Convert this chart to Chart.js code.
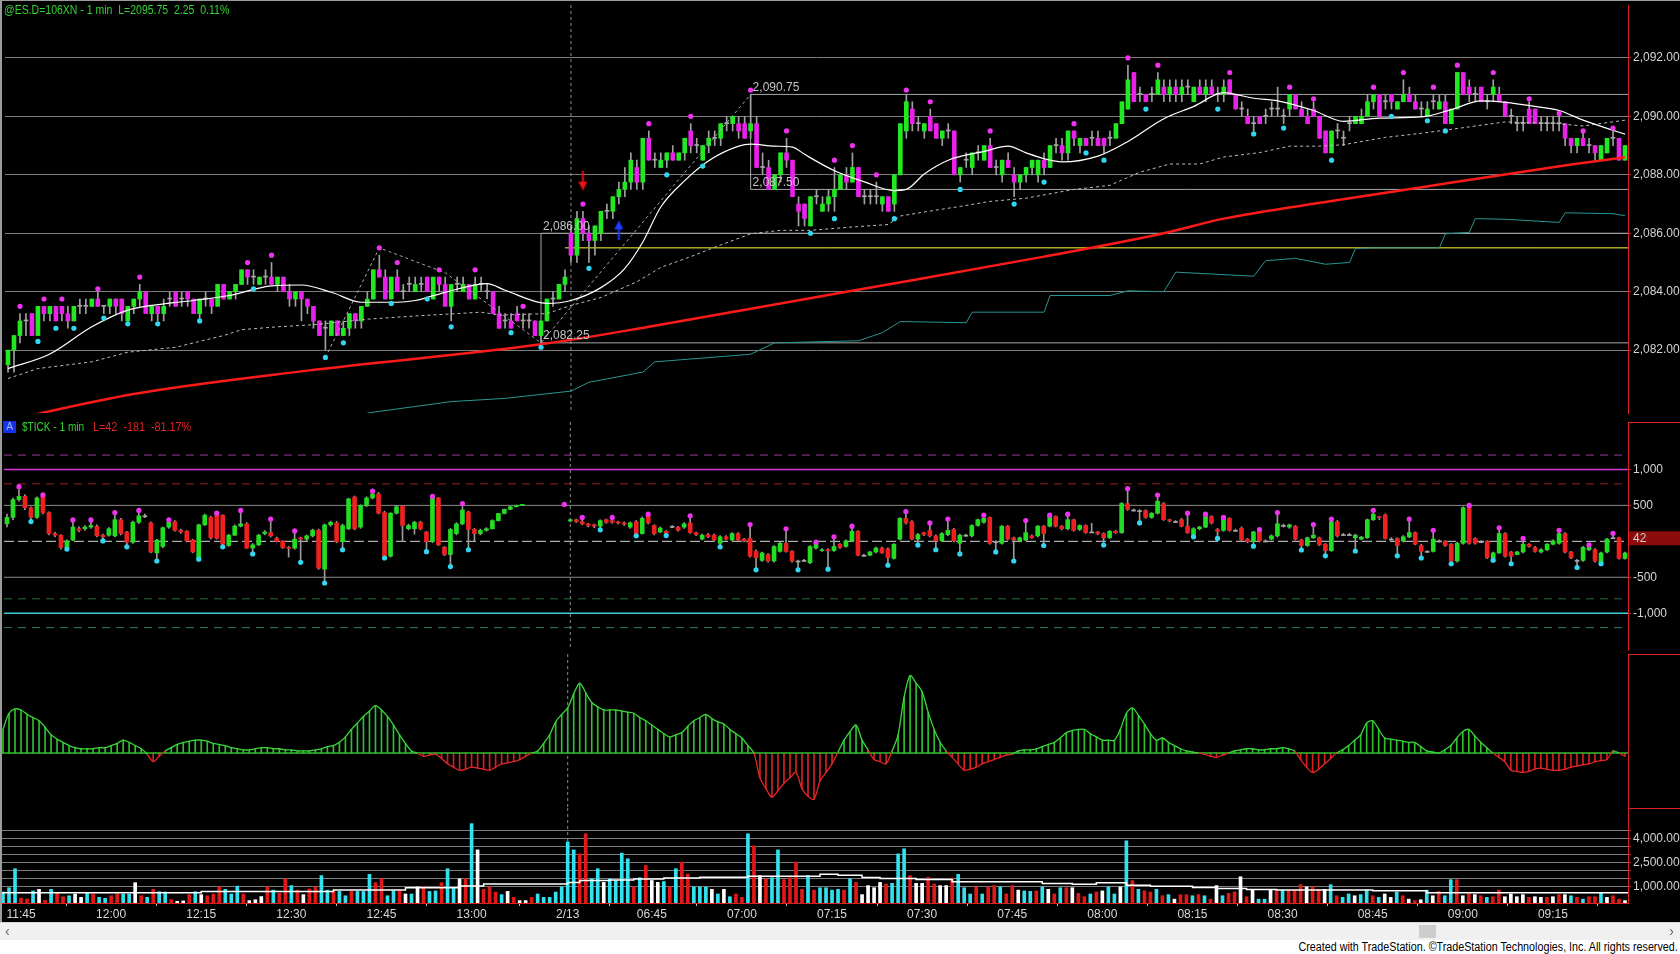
<!DOCTYPE html>
<html>
<head>
<meta charset="utf-8">
<title>@ES.D - 1 min</title>
<script src="https://cdn.jsdelivr.net/npm/chart.js@4.4.1/dist/chart.umd.min.js"></script>
<style>
  html, body { margin: 0; padding: 0; background: #fff; }
  body { width: 1680px; height: 954px; position: relative; overflow: hidden;
         font-family: "Liberation Sans Narrow", "Arial Narrow", "Liberation Sans", sans-serif; }
  #board { position: absolute; left: 0; top: 0; width: 1680px; height: 922px; background: #000; }
  canvas { position: absolute; left: 0; }
  #cPrice { top: 0; }
  #cTick { top: 418px; }
  #cOsc { top: 654px; }
  #cVol { top: 808px; }
  .frame { position: absolute; left: 0; top: 0; width: 1678px; height: 921px;
           border-left: 2px solid #9c9c9c; border-top: 1px solid #9c9c9c; pointer-events: none; }
  .title { position: absolute; font-size: 12px; white-space: pre; line-height: 14px;
           transform: scaleX(0.875); transform-origin: 0 0; }
  #esTitle { left: 4px; top: 3px; color: #35d435; }
  #tickTitle { left: 22px; top: 420px; color: #35d435; transform: scaleX(0.84); }
  #tickStats { left: 93px; top: 420px; color: #e42323; transform: scaleX(0.9); }
  #tickBadge { position: absolute; left: 3px; top: 421px; width: 13px; height: 12px; background: #1530e8;
               color: #9fb0ff; font-size: 10px; line-height: 12px; text-align: center; }
  #scroll { position: absolute; left: 0; top: 922px; width: 1680px; height: 17px; background: #f0f0f0;
            border-top: 1px solid #d8d8d8; }
  #thumb { position: absolute; left: 1419px; top: 2px; width: 17px; height: 13px; background: #cdcdcd; }
  #arrowR { position: absolute; right: 6px; top: 0; font-size: 14px; color: #606060; line-height: 17px; }
  #arrowL { position: absolute; left: 5px; top: 0; font-size: 14px; color: #606060; line-height: 17px; }
  #credit { position: absolute; right: 2px; top: 940px; font-size: 12px; color: #000; white-space: nowrap;
            line-height: 14px; transform: scaleX(0.895); transform-origin: 100% 0; }
</style>
</head>
<body>
<div id="board">
  <canvas id="cPrice" width="1680" height="418"></canvas>
  <canvas id="cTick" width="1680" height="236"></canvas>
  <canvas id="cOsc" width="1680" height="154"></canvas>
  <canvas id="cVol" width="1680" height="113"></canvas>
  <div class="frame"></div>
  <div class="title" id="esTitle">@ES.D=106XN - 1 min  L=2095.75  2.25  0.11%</div>
  <div id="tickBadge">A</div>
  <div class="title" id="tickTitle">$TICK - 1 min</div>
  <div class="title" id="tickStats">L=42  -181  -81.17%</div>
</div>
<div id="scroll"><span id="arrowL">&lsaquo;</span><div id="thumb"></div><span id="arrowR">&rsaquo;</span></div>
<div id="credit">Created with TradeStation. &copy;TradeStation Technologies, Inc. All rights reserved.</div>

<script>
// one bar per minute: 11:42-13:15 on the first day, then 2/13 06:31-09:27
var tickIdx = [3, 18, 33, 48, 63, 78, 94, 108, 123, 138, 153, 168, 183, 198, 213, 228, 243, 258];
var tickText = ["11:45", "12:00", "12:15", "12:30", "12:45", "13:00", "2/13", "06:45", "07:00", "07:15",
                "07:30", "07:45", "08:00", "08:15", "08:30", "08:45", "09:00", "09:15"];
var sessionBreak = 94;

// @ES.D 1 min candles
var esOpen = [
  2081.5,2082,2082.5,2083,2083.25,2082.5,2083.5,2083.25,2083.5,2083.5,
  2083.25,2083,2083.5,2083.5,2083.5,2083.75,2083.5,2083.5,2083.75,2083.75,
  2083,2083.5,2083.75,2084,2083.25,2083.5,2083.25,2083.75,2084,2083.75,
  2084,2083.75,2083.25,2083.75,2083.75,2083.5,2084.25,2083.75,2084,2084.25,
  2084.75,2084.5,2084.25,2084.5,2084.5,2084.25,2084.5,2084,2083.75,2084,
  2083.75,2083.5,2083,2082.75,2082.5,2083,2082.5,2082.75,2083.25,2083,
  2083.5,2083.75,2084.75,2084.5,2083.75,2084.5,2084,2084.25,2084,2084.25,
  2084.5,2083.75,2084.5,2084.25,2083.5,2084.25,2084,2084.25,2083.75,2084.25,
  2084,2084,2083.25,2083,2083,2083.25,2083,2083,2083,2082.5,
  2083,2083.75,2083.75,2084.25,2086,2085.25,2086.5,2086,2085.75,2086,
  2086.75,2086.75,2087.25,2087.5,2087.75,2088.25,2087.75,2089.25,2088.5,2088.25,
  2088.5,2088.75,2088.5,2088.75,2089.5,2089,2088.5,2089,2089.25,2089.25,
  2089.75,2089.75,2089.75,2089.75,2089.5,2089.75,2088.25,2088.25,2087.5,2088,
  2088.75,2088.5,2087,2087,2086.25,2087.25,2086.75,2087,2087.25,2087.5,
  2088,2087.75,2088.25,2087.25,2087.25,2087.25,2087,2087.25,2087,2088,
  2089.5,2090.25,2089.75,2089.5,2090,2089.75,2089.25,2089.5,2089.5,2088,
  2088.5,2088.25,2088.75,2088.5,2089,2088.25,2088,2088.5,2088,2087.75,
  2088,2088.25,2088,2088.5,2088.25,2089,2089,2088.75,2089.5,2089,
  2089.25,2089.25,2089.25,2089.25,2089.25,2089.25,2089.75,2090.25,2091.5,2090.75,
  2090.75,2090.75,2090.75,2091,2090.75,2091,2090.75,2091,2090.5,2091,
  2090.75,2091,2090.75,2090.75,2091.25,2090.75,2090.25,2090,2089.75,2090,
  2090,2090.25,2090.25,2090,2090.25,2090.75,2090.25,2090,2090.25,2090,
  2089.5,2088.75,2089.5,2089.25,2089.75,2089.75,2089.75,2090,2090.5,2090.75,
  2090.5,2090.75,2090.25,2090.5,2090.75,2090.5,2090.25,2090,2090.5,2090.25,
  2090.5,2089.75,2090.25,2091.5,2091,2090.75,2091,2090.5,2090.75,2090.75,
  2090.5,2090,2089.75,2089.75,2090.25,2090.25,2089.75,2089.75,2089.75,2089.75,
  2089.75,2089.25,2089,2089.25,2089,2089,2088.5,2088.75,2089.25,2089.25,
  2088.5
];
var esHigh = [
  2082,2082.5,2083.25,2083.25,2083.25,2083.5,2083.5,2083.5,2083.5,2083.5,
  2083.5,2083.5,2083.75,2083.75,2083.75,2084,2083.5,2083.75,2083.75,2083.75,
  2083.5,2083.75,2084.25,2084,2083.5,2083.5,2083.75,2084,2084,2084,
  2084,2083.75,2083.75,2084,2083.75,2084.25,2084.25,2084,2084.25,2084.75,
  2084.75,2084.75,2084.5,2084.75,2085,2084.5,2084.5,2084.25,2084,2084,
  2083.75,2083.5,2083,2083,2083,2083,2083,2083.25,2083.25,2083.5,
  2084,2084.75,2085.25,2084.75,2084.5,2084.75,2084.25,2084.5,2084.5,2084.5,
  2084.5,2084.5,2084.5,2084.5,2084.25,2084.5,2084.5,2084.25,2084.5,2084.5,
  2084.25,2084,2083.5,2083.25,2083.25,2083.5,2083.25,2083.25,2083,2083,
  2083.75,2084,2084.25,2084.75,2086.25,2086.75,2086.75,2086.25,2086.25,2086.75,
  2087,2087.25,2087.75,2088.25,2088.75,2088.5,2089.25,2089.5,2088.75,2088.75,
  2088.75,2089,2088.75,2089.25,2089.75,2089.25,2089,2089.5,2089.5,2089.75,
  2090,2090,2090,2090,2090.75,2090,2088.75,2088.5,2088,2088.75,
  2089.25,2088.5,2087.25,2087,2087.25,2087.5,2087.25,2087.5,2088.25,2088,
  2088.25,2088.75,2088.25,2087.5,2087.5,2087.75,2087.25,2087.25,2088,2089.75,
  2090.75,2090.5,2090,2089.75,2090.25,2089.75,2089.5,2089.75,2089.5,2088.25,
  2088.75,2088.75,2089,2089,2089.25,2088.5,2088.5,2088.75,2088.25,2088,
  2088.25,2088.5,2088.5,2088.75,2089,2089.25,2089.25,2089.5,2089.5,2089.25,
  2089.25,2089.5,2089.5,2089.25,2089.5,2089.75,2090.5,2091.75,2091.5,2091,
  2090.75,2091,2091.5,2091.25,2091.25,2091.25,2091.25,2091.25,2091,2091.25,
  2091.25,2091.25,2091,2091.25,2091.25,2090.75,2090.5,2090.25,2090,2090,
  2090.25,2090.5,2091,2090.25,2090.75,2090.75,2090.5,2090.25,2090.5,2090,
  2089.5,2089.5,2089.75,2089.5,2090,2090,2090.25,2090.75,2090.75,2090.75,
  2090.75,2090.75,2090.5,2091.25,2091,2090.75,2090.5,2090.5,2090.75,2090.75,
  2090.75,2090.25,2091.5,2091.5,2091.25,2091,2091,2090.75,2091.25,2091,
  2090.5,2090.25,2090,2090,2090.5,2090.25,2090,2090,2090,2090,
  2089.75,2089.25,2089.25,2089.5,2089.25,2089,2089,2089.25,2089.5,2089.25,
  2089
];
var esLow = [
  2081.25,2081.25,2082.25,2082.5,2082.5,2082.5,2083,2083,2083,2083,
  2082.75,2083,2083.25,2083.25,2083.5,2083.5,2083.25,2083.25,2083.25,2083,
  2083,2083.25,2083.5,2083.25,2083,2083,2083,2083.5,2083.5,2083.5,
  2083.5,2083.25,2083,2083.5,2083.25,2083.5,2083.75,2083.75,2083.75,2084.25,
  2084.25,2084.25,2084.25,2084.25,2084.25,2084,2084,2083.5,2083.5,2083,
  2083.25,2082.75,2082.5,2082,2082.5,2082.5,2082.5,2082.5,2082.75,2082.75,
  2083.5,2083.75,2084.5,2083.75,2083.75,2084,2083.75,2084,2084,2084,
  2084,2083.75,2084,2083.5,2083,2084,2084,2083.75,2083.75,2084,
  2083.75,2083.25,2082.75,2082.75,2082.75,2083,2082.75,2082.75,2082.5,2082.25,
  2083,2083.5,2083.75,2084,2085,2085,2085.75,2085,2085.25,2085.75,
  2086.5,2086.5,2087,2087.25,2087.5,2087.5,2087.5,2088.5,2088.25,2088.25,
  2088.25,2088.5,2088.5,2088.5,2088.75,2088.75,2088.5,2088.75,2089,2089,
  2089.5,2089.5,2089.25,2089.25,2089.25,2088.25,2088,2087.5,2087.5,2087.75,
  2088.25,2087.25,2086.25,2086.25,2086.25,2087,2086.75,2086.75,2086.75,2087.5,
  2087.5,2087.75,2087.25,2087,2087,2087,2086.75,2086.75,2086.75,2088,
  2089.25,2089.5,2089.5,2089.25,2089.5,2089.25,2089,2089.25,2088,2087.75,
  2088.25,2088,2088.5,2088.5,2088.25,2088,2087.75,2088.25,2087.25,2087.5,
  2087.75,2088,2087.75,2088,2088.25,2088.75,2088.5,2088.5,2089,2088.75,
  2089,2089,2089,2088.75,2089,2089.25,2089.75,2090.25,2090.5,2090.5,
  2090.5,2090.5,2090.75,2090.5,2090.5,2090.5,2090.5,2090.75,2090.5,2090.75,
  2090.5,2090.75,2090.5,2090.5,2090.75,2090.25,2090,2089.75,2089.5,2089.75,
  2089.75,2090,2090,2089.75,2090,2090.25,2090,2089.75,2090,2089.25,
  2088.75,2088.75,2089.25,2089,2089.5,2089.75,2089.75,2090,2090.25,2090,
  2090.25,2090.25,2090.25,2090.5,2090.5,2090.25,2090,2090,2090.25,2090.25,
  2089.75,2089.75,2090.25,2090.75,2090.5,2090.5,2090.5,2090.25,2090.5,2090.5,
  2090,2089.75,2089.5,2089.5,2089.75,2089.75,2089.5,2089.5,2089.5,2089.5,
  2089,2088.75,2088.75,2089,2088.75,2088.5,2088.5,2088.75,2089,2088.5,
  2088.5
];
var esClose = [
  2082,2082.5,2083,2083,2082.5,2083.5,2083.25,2083.5,2083,2083.25,
  2083,2083.5,2083.5,2083.5,2083.75,2083.5,2083.5,2083.75,2083.5,2083.25,
  2083.5,2083.75,2084,2083.25,2083.5,2083.25,2083.5,2083.75,2083.5,2083.75,
  2083.75,2083.25,2083.75,2083.75,2083.5,2084.25,2083.75,2084,2084.25,2084.75,
  2084.5,2084.5,2084.5,2084.5,2084.25,2084.5,2084,2083.75,2084,2083.75,
  2083.5,2083,2082.5,2082.75,2083,2082.5,2082.75,2083.25,2083,2083.5,
  2083.75,2084.75,2084.5,2083.75,2084.5,2084,2084,2084.25,2084.25,2084.25,
  2084,2084.5,2084.25,2083.5,2084.25,2084.25,2084.25,2083.75,2084.25,2084.25,
  2084,2083.25,2082.75,2083,2082.75,2083,2083,2083,2082.5,2083,
  2083.75,2083.75,2084.25,2084.5,2085.25,2086.5,2086,2085.75,2086.25,2086.75,
  2086.75,2087.25,2087.5,2087.75,2088.5,2087.75,2089.25,2088.5,2088.5,2088.5,
  2088.75,2088.5,2088.75,2089.25,2089,2089,2089,2089.25,2089.25,2089.75,
  2089.75,2090,2089.5,2089.25,2089.75,2088.25,2088.25,2087.5,2088,2088.75,
  2088.5,2087.25,2086.75,2086.5,2087.25,2087.25,2087,2087.25,2087.5,2088,
  2087.75,2088.25,2087.25,2087.25,2087.25,2087.25,2087.25,2086.75,2088,2089.75,
  2090.5,2089.75,2089.75,2089.75,2089.5,2089.25,2089.5,2089.5,2088,2088.25,
  2088.5,2088.75,2088.75,2089,2088.25,2088.25,2088.5,2088.25,2087.75,2088,
  2088.25,2088.5,2088.5,2088.25,2089,2089,2088.75,2089.5,2089.25,2089.25,
  2089,2089.25,2089,2089,2089.25,2089.75,2090.5,2091.25,2090.5,2090.75,
  2090.5,2090.75,2091.25,2090.75,2091,2090.75,2091,2091,2091,2090.75,
  2091,2090.75,2090.75,2091,2090.75,2090.25,2090.25,2089.75,2089.75,2089.75,
  2090,2090.25,2090.25,2090,2090.75,2090.25,2090,2089.75,2090,2089.25,
  2088.75,2089.5,2089.5,2089.25,2089.75,2090,2090,2090.5,2090.75,2090,
  2090.5,2090.5,2090.5,2090.75,2090.5,2090.25,2090.25,2090.25,2090.5,2090.5,
  2089.75,2090.25,2091.5,2090.75,2090.75,2090.75,2090.5,2090.5,2091,2090.5,
  2090,2090,2089.75,2089.75,2089.75,2089.75,2089.75,2089.75,2089.75,2089.75,
  2089.25,2089,2089.25,2089,2089,2088.75,2089,2089.25,2089.25,2088.5,
  2089
];
// pivot marks [bar, price]
var esHighDots = [[2,2083.5],[6,2083.75],[9,2083.75],[15,2084.1],[22,2084.5],[40,2085],[44,2085.25],[62,2085.5],
  [65,2085],[72,2084.75],[78,2084.75],[86,2083.5],[96,2087],[107,2089.75],[114,2090],[124,2090.9],[130,2089.5],
  [138,2088.5],[141,2089],[145,2088],[150,2090.9],[154,2090.5],[164,2089.5],[178,2089.75],[187,2092],[192,2091.75],
  [204,2091.5],[214,2091],[218,2090.6],[228,2091],[233,2091.5],[238,2091],[242,2091.75],[248,2091.5],[254,2090.6],
  [259,2090.1],[263,2089.5],[268,2089.6]];
var esLowDots = [[5,2082.3],[8,2082.75],[11,2082.75],[16,2083.1],[20,2082.9],[25,2082.9],[32,2083],[41,2084.1],
  [53,2081.75],[56,2082.25],[64,2083.6],[70,2083.75],[74,2082.8],[84,2082.6],[89,2082.1],[97,2084.8],[110,2088],
  [116,2088.3],[134,2086],[138,2086.5],[148,2086.5],[159,2087.5],[168,2087],[173,2087.75],[180,2088.75],
  [183,2088.5],[190,2090.25],[202,2090.25],[208,2089.4],[213,2089.6],[221,2088.5],[231,2090],[237,2089.85],[240,2089.5]];
var esMaFast = [[0,2081.37],[7,2081.87],[14,2082.8],[20,2083.37],[24,2083.53],[31,2083.7],[37,2083.87],[44,2084.2],
  [49,2084.23],[54,2083.98],[59,2083.64],[65,2083.64],[68,2083.7],[73,2083.98],[80,2084.28],[83,2084.05],[90,2083.6],
  [94,2083.7],[99,2084.14],[103,2084.8],[106,2085.7],[109,2086.9],[113,2087.8],[117,2088.48],[122,2088.98],
  [124,2089.05],[128,2088.98],[131,2088.95],[133,2088.7],[138,2088.14],[143,2087.76],[148,2087.46],[150,2087.5],
  [153,2088.03],[157,2088.5],[163,2088.8],[167,2088.98],[170,2088.75],[173,2088.55],[176,2088.44],[182,2088.64],
  [187,2089.14],[193,2089.92],[198,2090.34],[203,2090.81],[205,2090.75],[208,2090.62],[212,2090.53],[218,2090.2],
  [223,2089.83],[229,2089.94],[236,2089.98],[241,2090.23],[246,2090.53],[250,2090.48],[255,2090.34],[259,2090.2],
  [263,2089.87],[267,2089.59],[270,2089.39]];
var esMaSlow = [[0,2081.03],[5,2081.37],[14,2081.6],[20,2081.93],[28,2082.1],[36,2082.5],[39,2082.7],[45,2082.8],
  [51,2082.87],[60,2083.06],[68,2083.17],[79,2083.3],[82,2083.2],[90,2083.25],[94,2083.53],[99,2083.8],[105,2084.34],
  [109,2084.83],[114,2085.2],[119,2085.6],[124,2085.98],[129,2086.1],[134,2086.1],[140,2086.2],[147,2086.3],
  [149,2086.59],[154,2086.76],[159,2086.92],[164,2087.09],[170,2087.2],[178,2087.5],[184,2087.64],[189,2088.09],
  [194,2088.37],[199,2088.37],[203,2088.61],[209,2088.76],[214,2088.98],[219,2088.98],[223,2089.03],[230,2089.28],
  [236,2089.42],[244,2089.64],[250,2089.81],[258,2089.76],[263,2089.67],[270,2089.87]];
var esMaLong = [[0,2079.6],[21,2080.5],[50,2081.3],[89,2082.2],[107,2082.8],[140,2084],[173,2085.2],[193,2086],
  [203,2086.5],[221,2087.1],[240,2087.7],[261,2088.35],[270,2088.6]];
var esVwap = [[60,2079.85],[74,2080.24],[83,2080.35],[94,2080.6],[97,2080.9],[106,2081.25],[108,2081.6],[124,2081.86],
  [128,2082.25],[142,2082.32],[146,2082.6],[149,2082.98],[160,2082.94],[161,2083.3],[173,2083.3],[174,2083.87],
  [184,2083.87],[187,2084.03],[193,2084],[195,2084.67],[208,2084.53],[210,2085.06],[215,2085.14],[220,2084.94],
  [224,2085],[225,2085.48],[228,2085.5],[239,2085.5],[240,2085.98],[244,2086.03],[245,2086.5],[250,2086.48],
  [259,2086.37],[260,2086.7],[268,2086.67],[270,2086.6]];
var esSwing = [[53,2081.75],[62,2085.5],[73,2084.65],[89,2082.25],[124,2090.75]];
var esBoxes = [[124,2090.75,270.5,2090.75],[124,2087.5,270.5,2087.5],[124,2087.5,124,2090.75],
  [89,2086,270.5,2086],[89,2082.25,270.5,2082.25],[89,2082.25,89,2086]];
var esYellow = [[93,2085.5],[270.5,2085.5]];
var esTags = [[89,2086,"2,086.00"],[89,2082.25,"2,082.25"],[124,2090.75,"2,090.75"],[124,2087.5,"2,087.50"]];
var esSellArrow = [96, 2087.8];
var esBuyArrow = [102, 2086.1];
var esTicks = [2082, 2084, 2086, 2088, 2090, 2092];

// $TICK 1 min candles
var tickOpen = [
  243,333,580,625,468,333,625,400,108,85,
  -85,18,175,175,198,207,85,85,76,301,
  130,-13,265,355,256,-162,-72,198,274,153,
  140,18,-229,229,333,364,364,-58,85,211,
  243,-94,-49,108,121,40,5,-85,-94,50,
  31,76,153,-387,229,256,-5,175,616,198,
  500,603,660,400,-207,391,490,175,175,265,
  130,-5,603,-81,-184,108,243,409,166,108,
  153,175,288,387,445,481,500,null,null,null,
  null,null,null,null,283,300,274,243,230,211,
  301,288,265,256,198,274,108,355,220,130,
  140,207,198,198,256,121,31,94,85,-27,
  63,18,108,31,40,-140,-265,-184,-274,-140,
  -27,-140,-274,-265,-297,-94,-130,-117,-130,-40,
  -72,5,140,-194,-194,-148,-94,-103,-238,31,
  320,274,31,121,153,76,5,94,166,-27,
  85,76,220,265,333,-5,-27,211,49,5,
  18,76,76,211,211,346,211,175,301,166,
  220,130,130,108,49,140,121,526,436,427,
  427,333,391,526,301,274,301,211,85,175,
  198,346,166,153,320,153,184,31,-5,130,
  5,31,76,220,198,211,18,-58,49,49,
  -40,-130,274,94,94,49,31,50,301,340,
  369,31,40,5,63,121,-58,-140,-140,5,
  0,-40,-274,-27,481,40,-5,0,-229,-162,
  108,-148,-184,-148,-40,-85,-148,-117,-40,-27,
  108,-148,-265,-265,-117,-117,-297,-148,50,50,
  -238
];
var tickHigh = [
  380,600,720,650,480,620,630,410,130,95,
  20,280,200,220,280,230,100,190,390,320,
  140,280,420,380,270,30,200,290,290,170,
  150,30,240,380,350,380,370,100,230,420,
  260,-30,100,150,290,60,10,-70,130,60,
  90,170,170,240,280,280,240,600,630,510,
  620,690,680,420,400,500,500,240,280,280,
  140,610,610,-70,180,260,510,420,180,170,
  190,300,390,450,485,505,510,null,null,null,
  null,null,null,null,310,310,320,250,240,300,
  310,320,280,270,270,290,340,370,230,200,
  150,220,210,260,340,130,100,110,100,80,
  80,120,120,40,220,-120,-150,-170,-60,-10,
  160,-130,-260,-250,-60,-20,-100,-100,50,-30,
  20,200,150,-180,-140,-80,-80,-90,-30,330,
  400,290,110,130,240,90,120,300,180,100,
  100,230,310,350,340,10,220,220,60,60,
  270,90,220,220,350,355,220,360,310,230,
  230,250,140,120,150,150,540,700,450,440,
  440,400,620,540,310,290,320,370,190,210,
  360,355,180,330,330,170,200,40,140,150,
  20,90,390,240,240,220,30,60,220,60,
  -30,300,290,110,110,100,70,310,420,350,
  380,50,50,80,300,130,-40,-130,140,20,
  10,-30,-10,480,490,50,10,10,-150,180,
  120,-140,-140,30,-30,-70,-100,-30,20,140,
  120,-140,-250,-70,-70,-100,-150,40,100,60,
  -150
];
var tickLow = [
  200,300,560,440,300,320,380,90,60,-110,
  -100,10,130,150,180,60,20,70,60,90,
  -60,-30,250,330,-160,-260,-90,180,140,110,
  -10,-160,-235,220,30,30,-60,-70,80,200,
  -100,-160,-60,90,60,-10,-100,-220,-110,-280,
  0,60,-390,-560,210,-20,-100,160,160,180,
  480,590,380,-220,-220,380,0,160,100,160,
  -130,-20,-60,-200,-340,90,230,-100,0,90,
  140,170,280,380,440,478,498,null,null,null,
  null,null,null,null,270,260,230,200,190,170,
  250,250,240,220,180,90,100,240,90,120,
  90,190,140,180,110,80,20,50,0,-60,
  20,10,0,-10,-220,-380,-280,-290,-290,-150,
  -150,-290,-380,-280,-310,-110,-140,-370,-140,-100,
  -80,0,-200,-210,-200,-160,-170,-320,-250,20,
  240,20,-40,80,60,-100,0,80,-10,-160,
  70,60,210,250,-40,-130,-40,20,-260,-10,
  10,40,60,-40,200,200,160,160,140,150,
  110,120,90,-40,40,110,110,430,420,270,
  320,320,380,290,270,260,200,110,80,160,
  190,240,50,140,140,140,0,-20,-50,-10,
  -10,20,60,200,180,20,-110,-70,40,-60,
  -190,-140,60,80,80,-120,20,40,290,300,
  30,20,-190,-10,50,-50,-220,-150,-150,-10,
  -70,-300,-290,-40,-40,-40,-20,-240,-250,-170,
  -220,-300,-190,-160,-80,-150,-160,-130,-50,-40,
  -160,-240,-350,-280,-130,-290,-300,-160,40,-250,
  -250
];
var tickClose = [
  333,580,625,468,333,603,400,108,85,-85,
  5,198,153,198,220,76,63,175,301,108,
  -13,265,355,355,-148,18,189,265,153,130,
  5,-148,229,364,50,40,-40,85,211,243,
  -94,-49,85,130,76,0,-85,-94,31,31,
  76,153,-373,229,265,-5,220,590,175,500,
  603,660,391,-207,391,481,220,220,265,175,
  -5,603,-49,-184,166,243,436,166,108,153,
  175,288,387,445,481,500,508,null,null,null,
  null,null,null,null,300,274,243,220,211,288,
  265,265,256,238,256,108,320,256,108,184,
  108,207,153,243,121,94,85,63,18,63,
  31,108,18,5,-207,-229,-162,-274,-72,-27,
  -140,-274,-274,-265,-72,-27,-117,-130,-72,-85,
  5,140,-194,-194,-148,-94,-162,-229,-40,320,
  256,31,94,94,76,5,108,153,5,85,
  85,220,301,320,-27,-5,211,31,18,49,
  121,49,211,108,346,211,175,301,153,220,
  121,130,108,49,140,121,526,445,436,427,
  333,391,558,301,288,274,211,121,175,198,
  346,256,140,320,153,153,18,-5,130,5,
  5,76,243,220,229,31,-58,49,85,-49,
  -130,274,76,94,94,85,58,301,378,330,
  40,31,-58,63,121,-40,-140,-140,31,5,
  -58,-274,-27,468,-27,-27,-5,-229,-162,108,
  -207,-207,-148,-40,-72,-140,-117,-40,5,108,
  -148,-229,-265,-85,-85,-274,-162,31,50,-238,
  -162
];
var tickHighDots = [[2,760],[6,645],[11,297],[14,297],[18,400],[22,430],[27,297],[35,391],[39,430],[44,310],
  [48,144],[61,700],[71,625],[76,526],[93,513],[96,333],[101,333],[107,378],[114,355],[124,234],[130,175],
  [135,-10],[138,63],[141,211],[150,414],[154,256],[157,310],[163,364],[170,288],[174,364],[177,378],[187,733],
  [192,643],[197,391],[200,378],[203,333],[209,162],[212,400],[218,234],[221,310],[228,432],[234,310],[238,153],
  [244,500],[249,189],[253,40],[259,153],[264,-50],[268,112]];
var tickLowDots = [[4,275],[10,-108],[16,5],[20,-76],[25,-274],[32,-248],[36,-76],[41,-175],[49,-292],[53,-580],
  [56,-117],[63,-232],[70,-144],[74,-351],[77,-117],[99,160],[105,76],[110,80],[119,-76],[125,-396],[132,-396],
  [137,-387],[147,-333],[152,-52],[155,-117],[159,-175],[165,-148],[168,-274],[173,-58],[183,-52],[189,256],
  [198,62],[202,40],[208,-67],[216,-121],[220,-202],[225,-135],[232,-202],[236,-232],[241,-312],[248,-262],
  [251,-312],[262,-364],[266,-312]];
var tickRefs = [1200, 1000, 800, 500, 0, -500, -800, -1000, -1200];
var tickTicks = [1000, 500, -500, -1000];
var tickLast = 42;

// histogram oscillator
var oscValues = [
  22,37,41,40,36,33,30,24,17,13,
  10,7,5,4,4,4,5,5,7,9,
  12,10,7,4,-1,-8,-3,2,5,8,
  10,11,12,12,11,9,8,7,5,4,
  3,3,4,5,5,4,4,3,3,2,
  2,2,3,4,6,7,10,15,22,28,
  34,39,44,40,34,26,17,9,2,0,
  -3,-2,-1,-5,-10,-13,-16,-15,-13,-14,
  -15,-16,-13,-10,-9,-8,-6,-3,0,2,
  9,17,29,36,42,55,65,56,47,43,
  40,40,40,39,38,37,33,30,26,22,
  18,15,17,19,25,30,33,36,32,29,
  27,22,18,14,7,0,-23,-33,-41,-35,
  -28,-23,-18,-33,-40,-43,-26,-18,-10,1,
  12,20,26,12,3,-6,-8,-10,2,17,
  52,72,65,57,38,22,10,2,-4,-10,
  -16,-15,-13,-10,-8,-6,-4,-2,-1,2,
  3,3,4,6,8,10,14,19,21,22,
  22,18,15,12,12,12,22,37,42,35,
  27,18,12,14,10,7,4,2,1,0,
  -1,-3,-4,-2,0,2,3,4,4,3,
  3,4,4,5,4,2,-6,-13,-18,-15,
  -10,-5,0,3,7,12,17,28,30,22,
  14,13,12,11,10,10,6,2,1,0,
  3,7,14,20,22,16,10,5,0,-4,
  -8,-16,-17,-18,-17,-15,-14,-15,-16,-16,
  -15,-13,-12,-11,-10,-8,-7,-6,2,0,
  -3
];

// volume, with direction code per bar: c = up, r = down, w = unchanged
var volValues = [
  680,950,2130,310,250,750,850,170,850,600,
  390,450,560,350,600,560,350,290,450,560,
  560,560,1260,450,350,850,700,680,210,110,
  130,520,700,520,450,560,1000,850,560,1050,
  560,150,200,400,1000,800,600,1500,1080,800,
  520,870,1000,1700,800,750,720,450,720,720,
  720,1780,1260,1500,450,750,750,560,560,1000,
  1000,720,750,1260,2130,950,1500,1500,4930,3300,
  850,1000,680,520,720,350,150,150,350,560,
  350,350,680,1000,3800,3300,3050,4300,1500,2130,
  1280,1500,1400,3100,2750,1000,1570,2330,1400,1280,
  1330,1000,2130,2540,1800,1000,1000,1000,850,560,
  850,390,560,350,4300,3550,1700,1500,1570,3300,
  1450,1570,2540,850,1700,800,950,950,800,850,
  800,1500,1280,520,1080,950,1280,1180,1220,3050,
  3370,1700,1220,1220,1600,1180,1080,1080,1550,1780,
  950,560,1000,560,1000,1080,1000,560,1080,800,
  750,720,750,1000,850,560,950,950,950,600,
  390,560,680,750,1000,560,1000,3860,1390,850,
  750,680,850,450,520,240,520,520,450,520,
  450,240,1080,450,600,680,1630,390,850,240,
  240,850,800,800,800,800,1140,1000,1000,850,
  850,1140,450,350,560,450,520,800,450,350,
  560,350,680,450,240,150,200,800,450,720,
  450,1450,1450,450,560,520,450,350,390,800,
  390,560,390,520,350,390,350,350,390,520,
  520,450,350,240,390,390,600,350,450,240,
  150
];
var volDir = ("cccrrcwrcr rcwwcrccrr ccwrcrccrw wrcwrrrccc rwwwrcrrcr wrrccrccrc ccrrccrwcw rccrccwrcw " +
  "rrrcwrwwrc ccccccrrcc wccccrcrww crcrrcccwc wcrrcrwrcc rrrrcrcccc rcrwwwwrcc crwwrrwwrc ccrcrrcrrw " +
  "ccrcwrcrwr rcrwccwcrc rrcrcwrrcr crwcrrwrwc cwrcrrrwrr wcrccwccrc wwcrwrwcwr ccrwrwrcrr wwwwrwwrwr " +
  "wcrcrrcwrr w").replace(/ /g, "").split("");
var volAvg = [[0,560],[33,640],[55,720],[67,800],[76,950],[80,1050],[94,1180],[96,1280],[101,1390],[105,1430],
  [110,1490],[116,1550],[124,1600],[136,1660],[139,1790],[143,1720],[146,1580],[152,1520],[158,1456],[173,1314],
  [178,1210],[182,1170],[187,1250],[191,1108],[198,1046],[202,964],[207,902],[212,840],[228,800],[237,760],
  [255,636],[270.5,636]];
var volTicks = [1000, 1500, 2000, 2500, 3000, 3500, 4000, 4500];
var volLabelled = [1000, 2500, 4000];

var X_MIN = -0.5, X_MAX = 270.5, AXIS_W = 52;
var FONT = '"Liberation Sans Narrow", "Arial Narrow", "Liberation Sans", sans-serif';
var AXIS_RED = "#e02020";

Chart.defaults.font.family = FONT;
Chart.defaults.font.size = 12;
Chart.defaults.color = "#d4d4d4";

function pts(list) {
  return list.map(function (p) { return { x: p[0], y: p[1] }; });
}

function lineSet(list, color, width, dash, order, extra) {
  return Object.assign({
    type: "line", data: pts(list), borderColor: color, borderWidth: width, borderDash: dash || [],
    pointRadius: 0, tension: 0, fill: false, order: order
  }, extra || {});
}

function dotSet(list, color, order) {
  return { type: "line", data: pts(list), showLine: false, pointRadius: 2.6, pointBackgroundColor: color,
           pointBorderWidth: 0, order: order };
}

function candleSets(o, h, l, c, up, down, flat, wickColor, bodyW) {
  var wick = [], body = [], cols = [];
  for (var i = 0; i < o.length; i++) {
    if (o[i] === null) continue;
    wick.push({ x: i, y: [l[i], h[i]] });
    body.push({ x: i, y: [Math.min(o[i], c[i]), Math.max(o[i], c[i])] });
    cols.push(c[i] > o[i] ? up : (c[i] < o[i] ? down : flat));
  }
  return [
    { type: "bar", data: wick, backgroundColor: wickColor, barThickness: 1, grouped: false, minBarLength: 1, order: 10 },
    { type: "bar", data: body, backgroundColor: cols, barThickness: bodyW, grouped: false, minBarLength: 1, order: 9 }
  ];
}

function sessionLine(lo, hi) {
  return lineSet([[sessionBreak, hi], [sessionBreak, lo]], "#8c8c8c", 1, [3, 3], 30);
}

function xAxis(show) {
  var ax = { type: "linear", min: X_MIN, max: X_MAX, offset: false, display: show };
  if (show) {
    ax.position = "bottom";
    ax.afterBuildTicks = function (s) { s.ticks = tickIdx.map(function (v) { return { value: v }; }); };
    ax.afterFit = function (s) { s.height = 18; s.paddingLeft = 0; s.paddingRight = 0; };
    ax.ticks = { autoSkip: false, maxRotation: 0, minRotation: 0, padding: 1, color: "#d8d8d8",
                 callback: function (v, i) { return tickText[i]; } };
    ax.grid = { drawOnChartArea: false, drawTicks: true, tickLength: 3, tickColor: "#c8c8c8" };
    ax.border = { display: true, color: AXIS_RED };
  }
  return ax;
}

function rightAxis(min, max, ticks, fmt, gridOn) {
  return {
    position: "right", min: min, max: max,
    afterBuildTicks: function (s) { s.ticks = ticks.map(function (v) { return { value: v }; }); },
    afterFit: function (s) { s.width = AXIS_W; s.paddingTop = 0; s.paddingBottom = 0; },
    ticks: { display: true, autoSkip: false, padding: 2, color: "#d4d4d4", callback: fmt },
    grid: { display: ticks.length > 0, drawOnChartArea: gridOn, color: "#7c7c7c", lineWidth: 1,
            drawTicks: true, tickLength: 3, tickColor: AXIS_RED },
    border: { display: true, color: AXIS_RED, width: 1 }
  };
}

function paneOptions(y, showX) {
  return {
    responsive: false, animation: false, events: [],
    layout: { padding: 0 },
    plugins: { legend: { display: false }, tooltip: { enabled: false } },
    scales: { x: xAxis(showX), y: y }
  };
}

function fmtNum(dec) {
  return function (v) {
    return Number(v).toLocaleString("en-US", { minimumFractionDigits: dec, maximumFractionDigits: dec });
  };
}

function arrowImage(color, down) {
  var c = document.createElement("canvas");
  c.width = 9; c.height = 20;
  var g = c.getContext("2d");
  g.fillStyle = color;
  if (down) {
    g.fillRect(3.5, 0, 2, 13);
    g.beginPath(); g.moveTo(0, 11); g.lineTo(9, 11); g.lineTo(4.5, 20); g.closePath(); g.fill();
  } else {
    g.fillRect(3.5, 7, 2, 13);
    g.beginPath(); g.moveTo(0, 9); g.lineTo(9, 9); g.lineTo(4.5, 0); g.closePath(); g.fill();
  }
  return c;
}

var paneEdge = {
  id: "paneEdge",
  afterDraw: function (chart) {
    var a = chart.chartArea, g = chart.ctx;
    g.save();
    g.strokeStyle = AXIS_RED;
    g.beginPath(); g.moveTo(a.right, a.top + 0.5); g.lineTo(chart.width, a.top + 0.5); g.stroke();
    g.restore();
  }
};

var priceTags = {
  id: "priceTags",
  afterDatasetsDraw: function (chart) {
    var x = chart.scales.x, y = chart.scales.y, g = chart.ctx;
    g.save();
    g.font = "12px " + FONT;
    g.fillStyle = "#c4c4c4";
    g.textBaseline = "bottom";
    esTags.forEach(function (t) { g.fillText(t[2], x.getPixelForValue(t[0]) + 2, y.getPixelForValue(t[1]) - 1); });
    g.restore();
  }
};

var lastTickBox = {
  id: "lastTickBox",
  afterDraw: function (chart) {
    var a = chart.chartArea, g = chart.ctx, yy = chart.scales.y.getPixelForValue(tickLast);
    g.save();
    g.fillStyle = "#8a0c0c";
    g.fillRect(a.right + 1, yy - 7, chart.width - a.right - 1, 14);
    g.fillStyle = "#cfcfcf";
    g.font = "12px " + FONT;
    g.textBaseline = "middle";
    g.fillText(String(tickLast), a.right + 5, yy);
    g.restore();
  }
};

// price pane
var P_MIN = 2079.85, P_MAX = 2093.81;
var priceSets = [];
esBoxes.forEach(function (b) { priceSets.push(lineSet([[b[0], b[1]], [b[2], b[3]]], "#a8a8a8", 1, [], 25)); });
priceSets.push(lineSet(esYellow, "#ffff33", 1, [], 24));
priceSets.push(sessionLine(P_MIN, P_MAX));
priceSets.push(lineSet(esVwap, "#2b9494", 1, [], 20));
priceSets = priceSets.concat(candleSets(esOpen, esHigh, esLow, esClose, "#22e822", "#e822e8", "#a8a8a8", "#a0a0a0", 4));
priceSets.push(lineSet(esMaLong, "#ff1a1a", 2.5, [], 7, { cubicInterpolationMode: "monotone" }));
priceSets.push(lineSet(esSwing, "#a8a8a8", 1, [3, 3], 6));
priceSets.push(lineSet(esMaSlow, "#bdbdbd", 1, [3, 3], 6));
priceSets.push(lineSet(esMaFast, "#ffffff", 1.2, [], 5, { cubicInterpolationMode: "monotone" }));
priceSets.push(dotSet(esHighDots, "#ee33ee", 2));
priceSets.push(dotSet(esLowDots, "#33d6f0", 2));
priceSets.push({ type: "line", data: pts([esSellArrow]), showLine: false, pointStyle: arrowImage("#ee1111", true), order: 1 });
priceSets.push({ type: "line", data: pts([esBuyArrow]), showLine: false, pointStyle: arrowImage("#1a3cff", false), order: 1 });

new Chart(document.getElementById("cPrice"), {
  type: "bar",
  data: { datasets: priceSets },
  options: paneOptions(rightAxis(P_MIN, P_MAX, esTicks, fmtNum(2), true), false),
  plugins: [priceTags]
});

// $TICK pane
var T_MIN = -1512, T_MAX = 1660;
var refStyle = {
  "1200": ["#9a3a9a", [8, 6]], "1000": ["#d23ad2", []], "800": ["#9a2020", [8, 6]],
  "500": ["#8a8a8a", []], "0": ["#d8d8d8", [10, 4]], "-500": ["#8a8a8a", []],
  "-800": ["#2a6e3e", [8, 6]], "-1000": ["#3cd0dc", []], "-1200": ["#2a7a6a", [8, 6]]
};
var tickSets = [];
tickRefs.forEach(function (v) {
  var st = refStyle[String(v)];
  tickSets.push(lineSet([[X_MIN, v], [X_MAX, v]], st[0], v === 1000 || v === -1000 ? 1.5 : 1, st[1], 25));
});
tickSets.push(sessionLine(T_MIN, T_MAX));
tickSets = tickSets.concat(candleSets(tickOpen, tickHigh, tickLow, tickClose, "#22dd22", "#ee2020", "#a8a8a8", "#9a9a9a", 4));
tickSets.push(dotSet(tickHighDots, "#ee33ee", 2));
tickSets.push(dotSet(tickLowDots, "#33d6f0", 2));

new Chart(document.getElementById("cTick"), {
  type: "bar",
  data: { datasets: tickSets },
  options: paneOptions(rightAxis(T_MIN, T_MAX, tickTicks, fmtNum(0), false), false),
  plugins: [paneEdge, lastTickBox]
});

// oscillator pane
var O_MIN = -51, O_MAX = 92;
var oscBars = [], oscCols = [];
oscValues.forEach(function (v, i) {
  oscBars.push({ x: i, y: v });
  oscCols.push(v >= 0 ? "#2fbf2f" : "#d42222");
});
new Chart(document.getElementById("cOsc"), {
  type: "bar",
  data: { datasets: [
    sessionLine(O_MIN, O_MAX),
    lineSet([[X_MIN, 0], [X_MAX, 0]], "#2fbf2f", 1.5, [], 8),
    { type: "bar", data: oscBars, backgroundColor: oscCols, barThickness: 1, grouped: false, order: 10 },
    { type: "line", data: oscBars, borderWidth: 1.3, pointRadius: 0, tension: 0.3, order: 5,
      borderColor: "#3ad63a",
      segment: { borderColor: function (ctx) {
        return (ctx.p0.parsed.y + ctx.p1.parsed.y) / 2 >= 0 ? "#3ad63a" : "#e42626";
      } } }
  ] },
  options: paneOptions(rightAxis(O_MIN, O_MAX, [], function () { return ""; }, false), false),
  plugins: [paneEdge]
});

// volume pane
var V_MIN = 0, V_MAX = 5900;
var volColorOf = { c: "#33e0ee", r: "#e01818", w: "#ffffff" };
var volBars = [], volCols = [];
volValues.forEach(function (v, i) {
  volBars.push({ x: i, y: v });
  volCols.push(volColorOf[volDir[i]]);
});
new Chart(document.getElementById("cVol"), {
  type: "bar",
  data: { datasets: [
    sessionLine(V_MIN, V_MAX),
    { type: "bar", data: volBars, backgroundColor: volCols, barThickness: 3, grouped: false, order: 10 },
    lineSet(volAvg, "#ffffff", 1.5, [], 5, { stepped: "after" })
  ] },
  options: paneOptions(rightAxis(V_MIN, V_MAX, volTicks, function (v) {
    return volLabelled.indexOf(v) >= 0 ? fmtNum(2)(v) : "";
  }, true), true),
  plugins: [paneEdge]
});
</script>
</body>
</html>
